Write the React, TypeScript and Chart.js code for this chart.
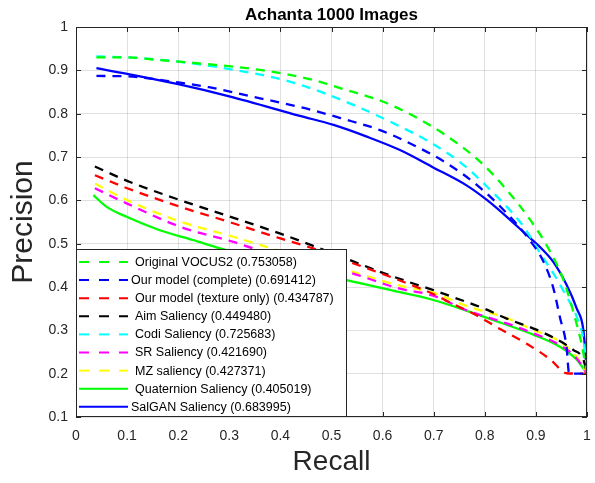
import React, { useEffect, useRef } from "react";
import { Chart, registerables } from "chart.js";

Chart.register(...registerables);

const FONT = "'Liberation Sans', Arial, Helvetica, sans-serif";
const TEXT = "#262626";

const titleText = "Achanta 1000 Images";
const xTitle = "Recall";
const yTitle = "Precision";

const xTickLabels = ["0", "0.1", "0.2", "0.3", "0.4", "0.5", "0.6", "0.7", "0.8", "0.9", "1"];
const yTickLabels = ["0.1", "0.2", "0.3", "0.4", "0.5", "0.6", "0.7", "0.8", "0.9", "1"];

// Original VOCUS2
const vocusRecall = [0.04, 0.1, 0.15, 0.26, 0.36, 0.46, 0.52, 0.6, 0.66, 0.72, 0.79, 0.84, 0.89, 0.924, 0.954, 0.975, 0.99, 1.0];
const vocusPrecision = [0.93, 0.93, 0.925, 0.914, 0.901, 0.879, 0.858, 0.828, 0.795, 0.753, 0.69, 0.628, 0.553, 0.49, 0.416, 0.335, 0.265, 0.2];

// Our model (complete)
const completeRecall = [0.04, 0.1, 0.2, 0.26, 0.37, 0.45, 0.52, 0.595, 0.663, 0.725, 0.787, 0.843, 0.888, 0.915, 0.934, 0.947, 0.96, 0.965, 1.0];
const completePrecision = [0.887, 0.886, 0.872, 0.861, 0.833, 0.812, 0.789, 0.762, 0.726, 0.686, 0.633, 0.57, 0.508, 0.458, 0.398, 0.33, 0.262, 0.2, 0.2];

// Our model (texture only)
const textureRecall = [0.037, 0.1, 0.204, 0.3, 0.4, 0.464, 0.53, 0.6, 0.66, 0.699, 0.732, 0.777, 0.83, 0.882, 0.928, 0.96, 1.0];
const texturePrecision = [0.658, 0.628, 0.585, 0.55, 0.512, 0.489, 0.46, 0.43, 0.403, 0.384, 0.364, 0.339, 0.303, 0.269, 0.233, 0.201, 0.2];

// Aim Saliency
const aimRecall = [0.037, 0.1, 0.2, 0.3, 0.4, 0.464, 0.53, 0.595, 0.66, 0.699, 0.732, 0.797, 0.843, 0.902, 0.941, 0.973, 0.993, 1.0];
const aimPrecision = [0.678, 0.645, 0.602, 0.563, 0.523, 0.495, 0.465, 0.435, 0.408, 0.393, 0.379, 0.351, 0.327, 0.301, 0.279, 0.255, 0.232, 0.2];

// Codi Saliency
const codiRecall = [0.04, 0.1, 0.2, 0.31, 0.41, 0.451, 0.491, 0.559, 0.628, 0.696, 0.758, 0.804, 0.869, 0.888, 0.91, 0.935, 0.96, 0.98, 0.995, 1.0];
const codiPrecision = [0.932, 0.93, 0.92, 0.901, 0.877, 0.862, 0.845, 0.812, 0.774, 0.732, 0.682, 0.632, 0.55, 0.518, 0.475, 0.43, 0.378, 0.331, 0.265, 0.2];

// SR Saliency
const srRecall = [0.037, 0.099, 0.204, 0.308, 0.347, 0.45, 0.53, 0.634, 0.699, 0.765, 0.843, 0.895, 0.947, 0.98, 1.0];
const srPrecision = [0.628, 0.593, 0.539, 0.504, 0.489, 0.455, 0.435, 0.396, 0.38, 0.346, 0.316, 0.293, 0.266, 0.235, 0.2];

// MZ saliency
const mzRecall = [0.037, 0.099, 0.204, 0.308, 0.36, 0.45, 0.53, 0.634, 0.699, 0.765, 0.843, 0.895, 0.947, 0.98, 1.0];
const mzPrecision = [0.639, 0.601, 0.551, 0.516, 0.497, 0.465, 0.439, 0.403, 0.387, 0.356, 0.328, 0.301, 0.274, 0.239, 0.2];

// Quaternion Saliency
const quatRecall = [0.034, 0.06, 0.099, 0.164, 0.23, 0.282, 0.35, 0.45, 0.53, 0.634, 0.699, 0.765, 0.83, 0.895, 0.947, 0.98, 1.0];
const quatPrecision = [0.612, 0.585, 0.562, 0.531, 0.508, 0.489, 0.468, 0.44, 0.416, 0.388, 0.37, 0.345, 0.318, 0.29, 0.262, 0.232, 0.2];

// SalGAN Saliency
const salganRecall = [0.04, 0.1, 0.2, 0.3, 0.438, 0.504, 0.569, 0.634, 0.699, 0.765, 0.804, 0.843, 0.882, 0.91, 0.934, 0.96, 0.98, 0.993, 1.0];
const salganPrecision = [0.905, 0.892, 0.868, 0.84, 0.795, 0.774, 0.747, 0.716, 0.676, 0.634, 0.601, 0.562, 0.52, 0.49, 0.458, 0.405, 0.35, 0.3, 0.2];

const seriesLabels = [
  "Original VOCUS2 (0.753058)",
  "Our model (complete) (0.691412)",
  "Our model (texture only) (0.434787)",
  "Aim Saliency (0.449480)",
  "Codi Saliency (0.725683)",
  "SR Saliency (0.421690)",
  "MZ saliency (0.427371)",
  "Quaternion Saliency (0.405019)",
  "SalGAN Saliency (0.683995)",
];

const seriesData = [
  [vocusRecall, vocusPrecision],
  [completeRecall, completePrecision],
  [textureRecall, texturePrecision],
  [aimRecall, aimPrecision],
  [codiRecall, codiPrecision],
  [srRecall, srPrecision],
  [mzRecall, mzPrecision],
  [quatRecall, quatPrecision],
  [salganRecall, salganPrecision],
];

const seriesColors = ["#00ff00", "#0000ff", "#ff0000", "#000000", "#00ffff", "#ff00ff", "#ffff00", "#00ff00", "#0000ff"];
const seriesDashed = [true, true, true, true, true, true, true, false, false];
const legendTextIndent = [0, -4, 0, 0, 0, 0, 0, 0, -4];

const PLOT_DASH = [9, 7];
const LEGEND_DASH = [10, 10];

const framePlugin = {
  id: "matlabFrame",
  afterDraw(chart: any) {
    const { ctx, chartArea: ca, scales } = chart;
    const xs = scales.x;
    const ys = scales.y;
    ctx.save();
    ctx.strokeStyle = TEXT;
    ctx.lineWidth = 1;
    ctx.setLineDash([]);
    ctx.strokeRect(Math.round(ca.left) + 0.5, Math.round(ca.top) + 0.5, Math.round(ca.right - ca.left) - 1, Math.round(ca.bottom - ca.top) - 1);
    const tl = 5;
    ctx.beginPath();
    xs.ticks.forEach((t: any) => {
      const px = Math.round(xs.getPixelForValue(t.value)) + 0.5;
      ctx.moveTo(px, ca.top);
      ctx.lineTo(px, ca.top + tl);
      ctx.moveTo(px, ca.bottom);
      ctx.lineTo(px, ca.bottom - tl);
    });
    ys.ticks.forEach((t: any) => {
      const py = Math.round(ys.getPixelForValue(t.value)) + 0.5;
      ctx.moveTo(ca.left, py);
      ctx.lineTo(ca.left + tl, py);
      ctx.moveTo(ca.right, py);
      ctx.lineTo(ca.right - tl, py);
    });
    ctx.stroke();

    ctx.fillStyle = "#000";
    ctx.font = `bold 17px ${FONT}`;
    ctx.textAlign = "center";
    ctx.textBaseline = "middle";
    ctx.fillText(titleText, (ca.left + ca.right) / 2, 15);

    const lx = Math.round(ca.left);
    const lw = 270;
    const lh = 168;
    const ly = Math.round(ca.bottom) - lh;
    ctx.fillStyle = "#ffffff";
    ctx.fillRect(lx + 0.5, ly + 0.5, lw, lh - 1);
    ctx.strokeStyle = TEXT;
    ctx.lineWidth = 1;
    ctx.strokeRect(lx + 0.5, ly + 0.5, lw, lh - 1);
    const rowH = 18.1;
    ctx.font = `12.5px ${FONT}`;
    ctx.textAlign = "left";
    ctx.textBaseline = "middle";
    chart.data.datasets.forEach((ds: any, i: number) => {
      const ry = ly + 13 + i * rowH;
      ctx.strokeStyle = ds.borderColor;
      ctx.lineWidth = 2;
      ctx.setLineDash(seriesDashed[i] ? LEGEND_DASH : []);
      ctx.beginPath();
      ctx.moveTo(lx + 3, ry);
      ctx.lineTo(lx + 52, ry);
      ctx.stroke();
      ctx.setLineDash([]);
      ctx.fillStyle = "#000";
      ctx.fillText(ds.label, lx + 59 + legendTextIndent[i], ry + 0.5);
    });
    ctx.restore();
  },
};

export default function App() {
  const canvasRef = useRef<HTMLCanvasElement | null>(null);

  useEffect(() => {
    const canvas = canvasRef.current;
    if (!canvas) return;
    const datasets = seriesLabels.map((label, i) => ({
      label,
      data: seriesData[i][0].map((x, j) => ({ x, y: seriesData[i][1][j] })),
      borderColor: seriesColors[i],
      backgroundColor: seriesColors[i],
      borderWidth: 2.3,
      borderDash: seriesDashed[i] ? PLOT_DASH : [],
      pointRadius: 0,
      fill: false,
      tension: 0.3,
      cubicInterpolationMode: "monotone" as const,
    }));

    const chart = new Chart(canvas, {
      type: "line",
      data: { datasets },
      options: {
        animation: false,
        responsive: false,
        maintainAspectRatio: false,
        layout: { padding: { top: 27, right: 8, left: 0, bottom: 0 } },
        plugins: {
          legend: { display: false },
          title: { display: false },
          tooltip: { enabled: false },
        },
        scales: {
          x: {
            type: "linear",
            min: 0,
            max: 1,
            ticks: {
              stepSize: 0.1,
              autoSkip: false,
              maxRotation: 0,
              padding: 11,
              color: TEXT,
              font: { family: FONT, size: 14 },
              callback: (_v: any, i: number) => xTickLabels[i],
            },
            grid: { color: "rgba(0,0,0,0.12)", drawTicks: false, lineWidth: 1 },
            border: { display: false },
            title: {
              display: true,
              text: xTitle,
              color: TEXT,
              font: { family: FONT, size: 28 },
              padding: { top: 0, bottom: 4 },
            },
            afterFit: (s: any) => {
              s.height = 66;
              s.paddingLeft = 0;
              s.paddingRight = 0;
            },
          },
          y: {
            type: "linear",
            min: 0.1,
            max: 1,
            ticks: {
              stepSize: 0.1,
              autoSkip: false,
              padding: 8,
              color: TEXT,
              font: { family: FONT, size: 14 },
              callback: (_v: any, i: number) => yTickLabels[i],
            },
            grid: { color: "rgba(0,0,0,0.12)", drawTicks: false, lineWidth: 1 },
            border: { display: false },
            title: {
              display: true,
              text: yTitle,
              color: TEXT,
              font: { family: FONT, size: 30 },
              padding: { top: 6, bottom: 0 },
            },
            afterFit: (s: any) => {
              s.width = 76;
              s.paddingTop = 0;
              s.paddingBottom = 0;
            },
          },
        },
      },
      plugins: [framePlugin],
    });
    return () => chart.destroy();
  }, []);

  return (
    <div style={{ position: "fixed", left: 0, top: 0, width: 595, height: 483, background: "#fff" }}>
      <canvas ref={canvasRef} width={595} height={483} style={{ display: "block", width: 595, height: 483 }} />
    </div>
  );
}
